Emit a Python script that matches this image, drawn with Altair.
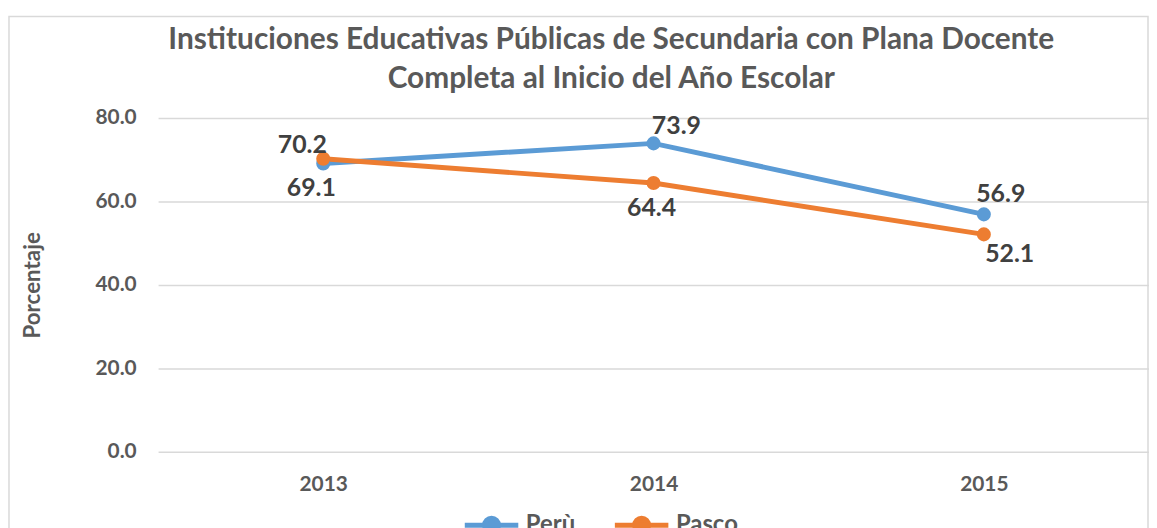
import altair as alt
import pandas as pd

years = ["2013", "2014", "2015"]
peru = [69.1, 73.9, 56.9]
pasco = [70.2, 64.4, 52.1]
series_names = ["Perù", "Pasco"]
colors = ["#5B9BD5", "#ED7D31"]
y_ticks = [0, 20, 40, 60, 80]
title_lines = ["Instituciones Educativas Públicas de Secundaria con Plana Docente",
               "Completa al Inicio del Año Escolar"]

rows = []
for name, vals in zip(series_names, [peru, pasco]):
    for yr, v in zip(years, vals):
        rows.append({"serie": name, "anio": yr, "valor": v})
df = pd.DataFrame(rows)

FONT = "Lato"
GREY = "#595959"
W, H = 997, 336

xscale = alt.Scale(type="point", padding=0.5)
x_enc = alt.X("anio:O", scale=xscale,
              axis=alt.Axis(title=None, labelAngle=0, labelFontSize=21, labelFont=FONT,
                            labelFontWeight="bold", labelColor=GREY, ticks=False,
                            domain=False, labelPadding=22, grid=False))
y_enc = alt.Y("valor:Q", scale=alt.Scale(domain=[0, 80], nice=False),
              axis=alt.Axis(title="Porcentaje", values=y_ticks, format=".1f",
                            labelFontSize=21, labelFont=FONT, labelFontWeight="bold",
                            labelColor=GREY, ticks=False, domain=False, labelPadding=22,
                            titleFont=FONT, titleFontSize=22.5, titleFontWeight="bold",
                            titleColor=GREY, titlePadding=51, gridColor="#D9D9D9",
                            gridWidth=1.5))
color_enc = alt.Color("serie:N", scale=alt.Scale(domain=series_names, range=colors),
                      sort=series_names,
                      legend=alt.Legend(title=None, orient="none", legendX=306, legendY=380,
                                        direction="horizontal", labelFont=FONT,
                                        labelFontSize=24, labelFontWeight="bold",
                                        labelColor=GREY,
                                        symbolType="M-1,0H1M-0.26,0A0.26,0.26 0 1,0 0.26,0A0.26,0.26 0 1,0 -0.26,0Z",
                                        symbolSize=2900, symbolStrokeWidth=5,
                                        columnPadding=29, labelOffset=5))

base = alt.Chart(df)

lines = base.mark_line(strokeWidth=5).encode(x=x_enc, y=y_enc, color=color_enc,
                                              order=alt.Order("anio:O"))
points = base.mark_circle(size=200, opacity=1).encode(
    x=alt.X("anio:O", scale=xscale),
    y="valor:Q",
    color=alt.Color("serie:N", scale=alt.Scale(domain=series_names, range=colors), legend=None))

label_layers = []
offsets = {
    ("Perù", "2013"): (-12, 25),
    ("Perù", "2014"): (23, -17),
    ("Perù", "2015"): (17, -20),
    ("Pasco", "2013"): (-21, -14),
    ("Pasco", "2014"): (-2, 25),
    ("Pasco", "2015"): (26, 20),
}
for (s, yr), (dx, dy) in offsets.items():
    label_layers.append(
        base.transform_filter((alt.datum.serie == s) & (alt.datum.anio == yr))
        .mark_text(font=FONT, fontSize=25, fontWeight="bold", color="#404040", dx=dx, dy=dy)
        .encode(x=alt.X("anio:O", scale=xscale),
                y="valor:Q", text=alt.Text("valor:Q", format=".1f"))
    )

border = alt.Chart(pd.DataFrame({"a": [0]})).mark_rect(
    fill="transparent", stroke="#D9D9D9", strokeWidth=1.5
).encode(x=alt.value(-150), x2=alt.value(W - 1), y=alt.value(-102), y2=alt.value(H + 200))

title = alt.Chart(pd.DataFrame({"t": ["\n".join(title_lines)]})).mark_text(
    font=FONT, fontSize=30, fontWeight="bold", color=GREY, align="center",
    baseline="middle", lineBreak="\n", lineHeight=39
).encode(x=alt.value(456), y=alt.value(-78), text="t:N")

chart = alt.layer(border, lines, points, *label_layers, title).properties(
    width=W, height=H,
    autosize=alt.AutoSizeParams(type="none"),
    padding={"left": 151, "top": 109, "right": 0, "bottom": 75},
).configure_view(stroke=None)

chart.save("out.html", embed_options={"renderer": "svg", "actions": False})
